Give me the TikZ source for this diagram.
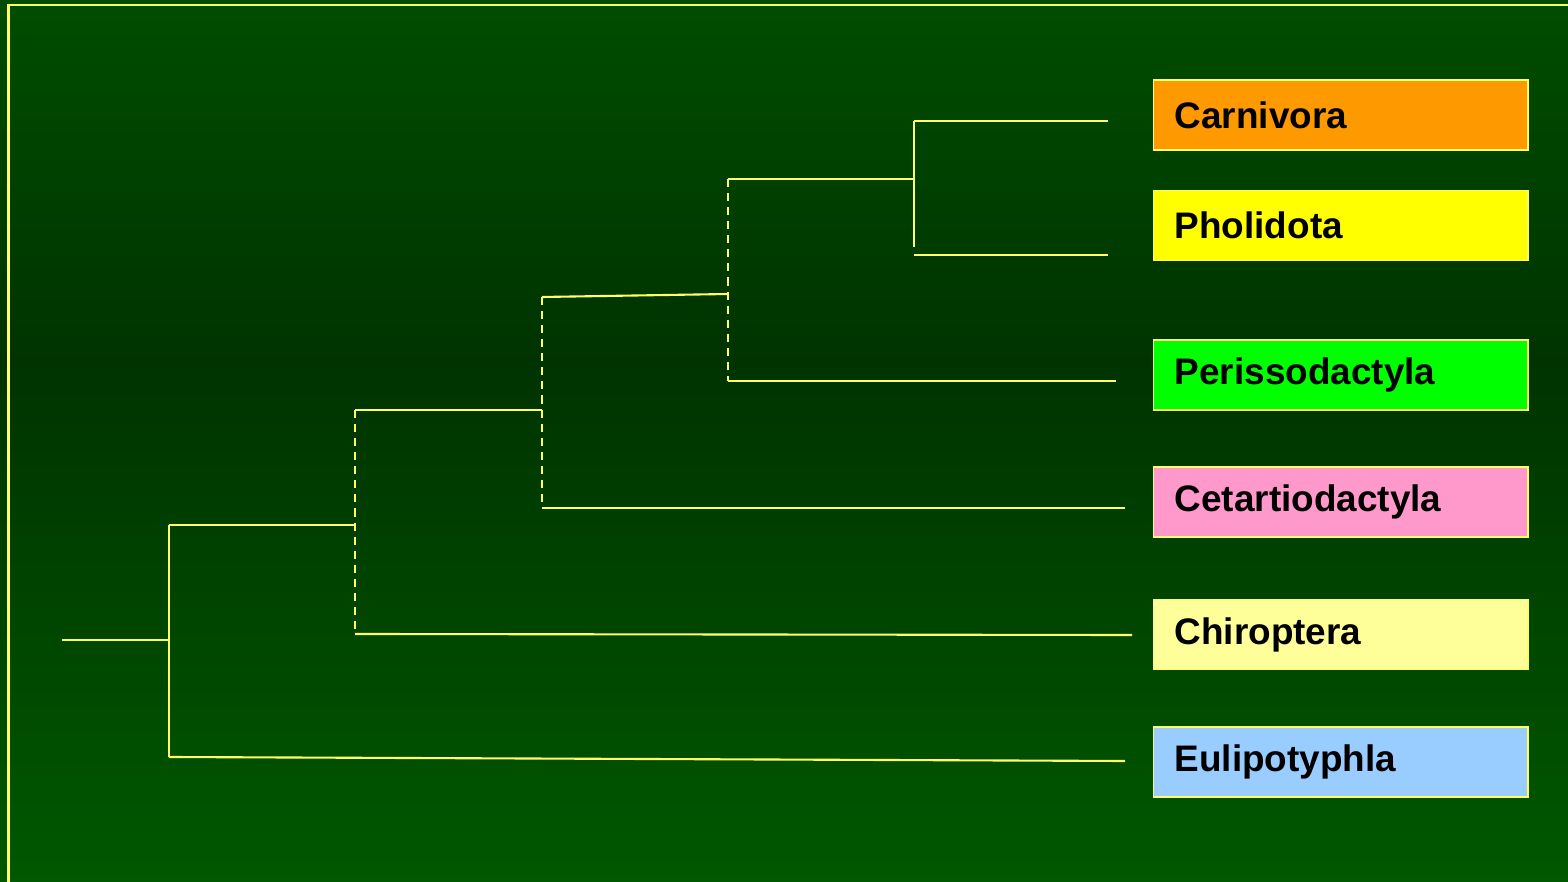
\documentclass[tikz,border=0pt]{standalone}
\usepackage{fontspec}
\setmainfont{Liberation Sans}
\usepackage{tikz}

\definecolor{bgTop}{HTML}{004D00}
\definecolor{bgMid}{HTML}{003300}
\definecolor{bgBot}{HTML}{005800}
\definecolor{branchCol}{HTML}{FFFF66}
\definecolor{carnCol}{HTML}{FF9900}
\definecolor{pholCol}{HTML}{FFFF00}
\definecolor{periCol}{HTML}{00FF00}
\definecolor{cetaCol}{HTML}{FF99CC}
\definecolor{chirCol}{HTML}{FFFF99}
\definecolor{euliCol}{HTML}{99CCFF}

\begin{document}
\begin{tikzpicture}%
        [x=0.01cm, y=-0.01cm,
        branch/.style={color=branchCol, line width=0.6pt},
        unsure/.style={color=branchCol, line width=0.6pt, dash pattern=on 2.3pt off 1.7pt},
        frame/.style={color=branchCol, line width=0.6pt},
        taxon/.style={draw=branchCol, line width=0.4pt, anchor=west, minimum width=3.74cm,
                      minimum height=0.70cm, text width=3.32cm, inner xsep=0.21cm, align=left,
                      font=\fontsize{10.5pt}{12pt}\selectfont\bfseries, text=black}]
%
%% Background and frame
%%
\useasboundingbox (0,0) rectangle (1568,882);
\shade[top color=bgTop, bottom color=bgMid] (0,0) rectangle (1568,360);
\shade[top color=bgMid, bottom color=bgBot] (0,360) rectangle (1568,882);
\draw[frame] (8.5,882) -- (8.5,5) -- (1568,5);
%%
%% Taxa
%%
\node[taxon, fill=carnCol] (carnivora) at (1153,115) {Carnivora};
\node[taxon, fill=pholCol] (pholidota) at (1153,225.5) {Pholidota};
\node[taxon, fill=periCol] (perisso) at (1153,375) {Perissodactyla};
\node[taxon, fill=cetaCol] (cetartio) at (1153,502) {Cetartiodactyla};
\node[taxon, fill=chirCol] (chiroptera) at (1153,634.5) {Chiroptera};
\node[taxon, fill=euliCol] (eulipo) at (1153,762) {Eulipotyphla};
%%
%% Coordinates of the tree
%%
\coordinate (root) at (62,640);
\coordinate (n1) at (169,640);
\coordinate (n1top) at (169,525);
\coordinate (n1bot) at (169,757);
\coordinate (n2top) at (355,410);
\coordinate (n2mid) at (355,525);
\coordinate (n2bot) at (355,634);
\coordinate (n3top) at (542,297);
\coordinate (n3mid) at (542,410);
\coordinate (n3bot) at (542,508);
\coordinate (n4top) at (728,179);
\coordinate (n4mid) at (728,294);
\coordinate (n4bot) at (728,381);
\coordinate (n5top) at (914,121);
\coordinate (n5mid) at (914,179);
\coordinate (n5bot) at (914,247);
\coordinate (n5leaf) at (914,255);
\coordinate (carnEnd) at (1108,121);
\coordinate (pholEnd) at (1108,255);
\coordinate (periEnd) at (1116,381);
\coordinate (cetaEnd) at (1125,508);
\coordinate (chirEnd) at (1132,635);
\coordinate (euliEnd) at (1125,761);
%%
%% Drawing the branches
%%
\draw[branch] (root) -- (n1);
\draw[branch] (n1top) -- (n1bot);
\draw[branch] (n1top) -- (n2mid);
\draw[branch] (n1bot) -- (euliEnd);
\draw[unsure] (n2top) -- (n2bot);
\draw[branch] (n2top) -- (n3mid);
\draw[branch] (n2bot) -- (chirEnd);
\draw[unsure] (n3top) -- (n3bot);
\draw[branch] (n3top) -- (n4mid);
\draw[branch] (n3bot) -- (cetaEnd);
\draw[unsure] (n4top) -- (n4bot);
\draw[branch] (n4top) -- (n5mid);
\draw[branch] (n4bot) -- (periEnd);
\draw[branch] (n5top) -- (n5bot);
\draw[branch] (n5top) -- (carnEnd);
\draw[branch] (n5leaf) -- (pholEnd);

\end{tikzpicture}
\end{document}
